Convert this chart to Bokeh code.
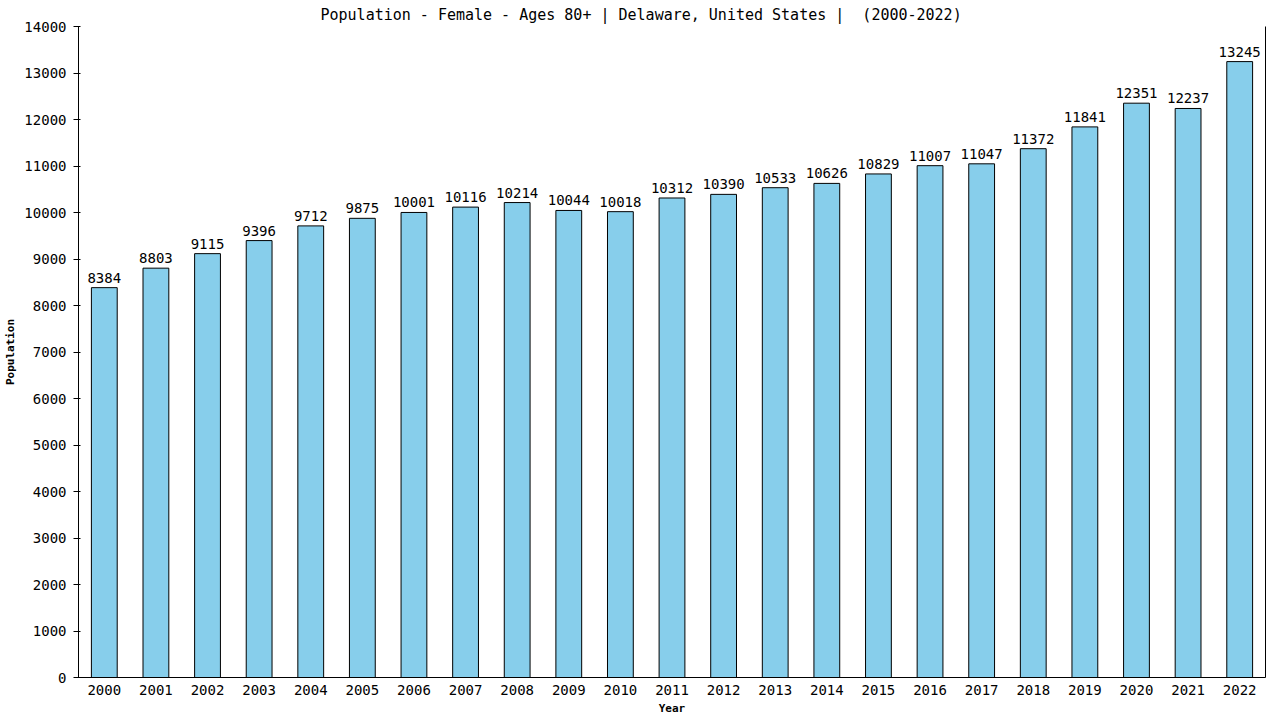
from bokeh.plotting import figure
from bokeh.models import (ColumnDataSource, Range1d, FactorRange, LabelSet, SingleIntervalTicker,
                          Title, LinearAxis, FixedTicker)
from bokeh.core.properties import value
from bokeh.embed import file_html
from bokeh.resources import INLINE

years = [str(y) for y in range(2000, 2023)]
values = [8384, 8803, 9115, 9396, 9712, 9875, 10001, 10116, 10214, 10044, 10018,
          10312, 10390, 10533, 10626, 10829, 11007, 11047, 11372, 11841, 12351, 12237, 13245]
title_text = "Population - Female - Ages 80+ | Delaware, United States | \u00a0(2000-2022)"

FONT = "DejaVu Sans Mono"

src = ColumnDataSource(dict(year=years, value=values, label=[str(v) for v in values]))

p = figure(width=1280, height=720, output_backend="svg", toolbar_location=None,
           x_range=FactorRange(factors=years, range_padding=0),
           y_range=Range1d(0, 14000),
           min_border_left=78, min_border_right=15, min_border_top=26, min_border_bottom=43)
p.title = None
p.add_layout(Title(text=title_text, align="left", text_font=FONT, text_font_size="15px",
                   text_font_style="normal", text_color="black", offset=242, standoff=6), "above")

p.vbar(x="year", top="value", width=0.5, source=src, fill_color="#87CEEB",
       line_color="black", line_width=1)

labels = LabelSet(x="year", y="value", text="label", source=src, text_align="center",
                  text_baseline="bottom", y_offset=5, text_font=value(FONT),
                  text_font_size=value("14px"), text_color="black")
p.add_layout(labels)

p.xgrid.visible = False
p.ygrid.visible = False
p.outline_line_color = None
p.background_fill_color = "white"
p.border_fill_color = "white"

p.yaxis.ticker = SingleIntervalTicker(interval=1000)
p.yaxis.axis_label = "Population"
p.xaxis.axis_label = "Year"
for ax in (p.xaxis, p.yaxis):
    ax.axis_label_text_font = FONT
    ax.axis_label_text_font_size = "11px"
    ax.axis_label_text_font_style = "bold"
    ax.axis_label_text_color = "black"
    ax.major_label_text_font = FONT
    ax.major_label_text_font_size = "14px"
    ax.major_label_text_color = "black"
    ax.axis_line_color = "black"
    ax.minor_tick_line_color = None
p.yaxis.major_tick_out = 5
p.yaxis.major_tick_in = 2
p.yaxis.major_tick_line_color = "black"
p.xaxis.major_tick_line_color = None
p.xaxis.major_tick_out = 0
p.xaxis.major_tick_in = 0
p.xaxis.major_label_standoff = 7
p.yaxis.major_label_standoff = 7
p.xaxis.axis_label_standoff = 4
p.yaxis.axis_label_standoff = 4

# right border line
ra = LinearAxis(ticker=FixedTicker(ticks=[]), major_tick_line_color=None,
                minor_tick_line_color=None, major_tick_out=0, major_tick_in=0,
                major_label_standoff=0, axis_line_color="black")
p.add_layout(ra, "right")

open("out.html", "w").write(file_html(p, INLINE))
